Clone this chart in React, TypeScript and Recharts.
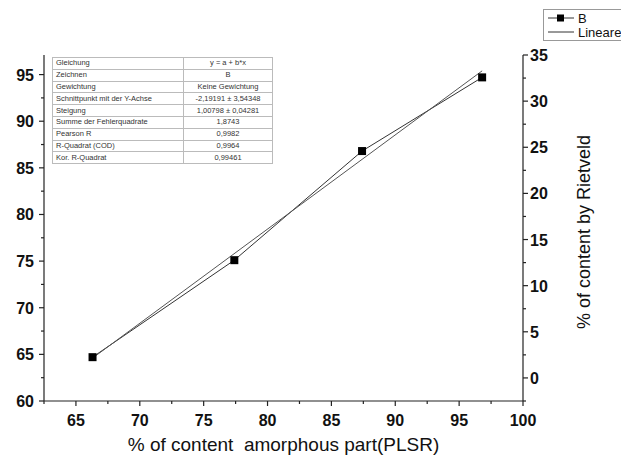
import React from 'react';
import {
  LineChart,
  Line,
  XAxis,
  YAxis,
} from 'recharts';

// measured points (series "B")
const xValues = [66.3, 77.4, 87.4, 96.8];
const yValues = [64.7, 75.1, 86.8, 94.7];

// linear fit end points
const fitX = [66.3, 96.8];
const fitY = [64.6, 95.4];

const seriesNames = ['B', 'Lineare'];

const xTicks = [62.5, 65, 67.5, 70, 72.5, 75, 77.5, 80, 82.5, 85, 87.5, 90, 92.5, 95, 97.5, 100];
const leftTicks = [60, 62.5, 65, 67.5, 70, 72.5, 75, 77.5, 80, 82.5, 85, 87.5, 90, 92.5, 95];
const rightTicks = [-2.5, 0, 2.5, 5, 7.5, 10, 12.5, 15, 17.5, 20, 22.5, 25, 27.5, 30, 32.5, 35];

const fitLabels = [
  'Gleichung',
  'Zeichnen',
  'Gewichtung',
  'Schnittpunkt mit der Y-Achse',
  'Steigung',
  'Summe der Fehlerquadrate',
  'Pearson R',
  'R-Quadrat (COD)',
  'Kor. R-Quadrat',
];
const fitValues = [
  'y = a + b*x',
  'B',
  'Keine Gewichtung',
  '-2,19191 ± 3,54348',
  '1,00798 ± 0,04281',
  '1,8743',
  '0,9982',
  '0,9964',
  '0,99461',
];

const points = xValues.map((x, i) => ({ x, y: yValues[i] }));
const fitPoints = fitX.map((x, i) => ({ x, y: fitY[i] }));

const FONT = '"Liberation Sans", Arial, sans-serif';
const isMajor = (v: number) => v % 5 === 0;

function SquareDot(props: any) {
  const { cx, cy } = props;
  if (cx == null || cy == null) return null;
  return <rect x={cx - 4} y={cy - 4} width={8} height={8} fill="#000" />;
}

function BottomTick(props: any) {
  const { x, y, payload } = props;
  const v = payload.value;
  const len = isMajor(v) ? 5 : 3;
  return (
    <g>
      <line x1={x} y1={y} x2={x} y2={y + len} stroke="#222" strokeWidth={1.2} />
      {isMajor(v) && (
        <text x={x} y={y + 25} textAnchor="middle" fontSize={16} fontWeight="bold" fill="#111" fontFamily={FONT}>
          {v}
        </text>
      )}
    </g>
  );
}

function TopTick(props: any) {
  const { x, y, payload } = props;
  const len = isMajor(payload.value) ? 5 : 3;
  return <line x1={x} y1={y} x2={x} y2={y + len} stroke="#222" strokeWidth={1.2} />;
}

function LeftTick(props: any) {
  const { x, y, payload } = props;
  const v = payload.value;
  const len = isMajor(v) ? 5 : 3;
  return (
    <g>
      <line x1={x - len} y1={y} x2={x} y2={y} stroke="#222" strokeWidth={1.2} />
      {isMajor(v) && (
        <text x={x - 10} y={y + 6} textAnchor="end" fontSize={16} fontWeight="bold" fill="#111" fontFamily={FONT}>
          {v}
        </text>
      )}
    </g>
  );
}

function RightTick(props: any) {
  const { x, y, payload } = props;
  const v = payload.value;
  const len = isMajor(v) ? 5 : 3;
  return (
    <g>
      <line x1={x} y1={y} x2={x + len} y2={y} stroke="#222" strokeWidth={1.2} />
      {isMajor(v) && v >= 0 && (
        <text x={x + 7} y={y + 6} textAnchor="start" fontSize={16} fontWeight="bold" fill="#111" fontFamily={FONT}>
          {v}
        </text>
      )}
    </g>
  );
}

function LegendBox() {
  return (
    <div
      style={{
        position: 'absolute',
        left: 543,
        top: 9,
        width: 90,
        border: '1px solid #999',
        background: '#fff',
        padding: '1px 4px',
        fontFamily: FONT,
        fontSize: 13,
        color: '#111',
      }}
    >
      {seriesNames.map((name) => (
        <div key={name} style={{ display: 'flex', alignItems: 'center', height: 14 }}>
          <svg width={26} height={12} style={{ marginRight: 4 }}>
            <line x1={0} y1={6} x2={26} y2={6} stroke="#333" strokeWidth={1} />
            {name === 'B' && <rect x={9} y={2.5} width={7} height={7} fill="#000" />}
          </svg>
          <span>{name}</span>
        </div>
      ))}
    </div>
  );
}

function FitTable() {
  return (
    <table
      style={{
        position: 'absolute',
        left: 52,
        top: 57,
        width: 221,
        borderCollapse: 'collapse',
        background: '#fff',
        border: '1px solid #888',
        fontFamily: FONT,
        fontSize: 7.5,
        color: '#333',
      }}
    >
      <tbody>
        {fitLabels.map((label, i) => (
          <tr key={label} style={{ height: 11.8 }}>
            <td style={{ border: '1px solid #bbb', padding: '0 3px', width: 124, lineHeight: '10px' }}>{label}</td>
            <td style={{ border: '1px solid #bbb', padding: 0, textAlign: 'center', lineHeight: '10px' }}>{fitValues[i]}</td>
          </tr>
        ))}
      </tbody>
    </table>
  );
}

export default function App() {
  return (
    <div style={{ position: 'absolute', left: 0, top: 0, width: 621, height: 457, background: '#fff' }}>
      <LineChart width={621} height={457} margin={{ top: 55, right: 48, bottom: 0, left: 0 }}>
        <XAxis
          xAxisId="bottom"
          type="number"
          dataKey="x"
          domain={[62.5, 100]}
          ticks={xTicks}
          interval={0}
          allowDataOverflow
          height={56}
          stroke="#222"
          strokeWidth={1.2}
          tickLine={false}
          tickSize={0}
          tickMargin={0}
          tick={<BottomTick />}
          label={{
            content: () => (
              <text
                x={283.5}
                y={451}
                textAnchor="middle"
                fontSize={19}
                fill="#111"
                fontFamily={FONT}
                style={{ whiteSpace: 'pre' }}
              >
                {'% of content  amorphous part(PLSR)'}
              </text>
            ),
          }}
        />
        <XAxis
          xAxisId="top"
          orientation="top"
          type="number"
          dataKey="x"
          domain={[62.5, 100]}
          ticks={xTicks}
          interval={0}
          allowDataOverflow
          height={0}
          stroke="#222"
          strokeWidth={1.2}
          tickLine={false}
          tickSize={0}
          tickMargin={0}
          tick={<TopTick />}
        />
        <YAxis
          yAxisId="left"
          type="number"
          domain={[60, 97.1]}
          ticks={leftTicks}
          interval={0}
          allowDataOverflow
          width={44}
          stroke="#222"
          strokeWidth={1.2}
          tickLine={false}
          tickSize={0}
          tickMargin={0}
          tick={<LeftTick />}
        />
        <YAxis
          yAxisId="right"
          orientation="right"
          type="number"
          domain={[-2.5, 35]}
          ticks={rightTicks}
          interval={0}
          allowDataOverflow
          width={50}
          stroke="#222"
          strokeWidth={1.2}
          tickLine={false}
          tickSize={0}
          tickMargin={0}
          tick={<RightTick />}
          label={{
            content: () => (
              <text
                transform="translate(590, 232) rotate(-90)"
                textAnchor="middle"
                fontSize={18}
                fill="#111"
                fontFamily={FONT}
              >
                % of content by Rietveld
              </text>
            ),
          }}
        />
        <Line
          xAxisId="bottom"
          yAxisId="left"
          data={points}
          dataKey="y"
          name={seriesNames[0]}
          stroke="#333"
          strokeWidth={1}
          dot={<SquareDot />}
          activeDot={false}
          isAnimationActive={false}
        />
        <Line
          xAxisId="bottom"
          yAxisId="left"
          data={fitPoints}
          dataKey="y"
          name={seriesNames[1]}
          stroke="#555"
          strokeWidth={1}
          dot={false}
          activeDot={false}
          isAnimationActive={false}
        />
      </LineChart>
      <FitTable />
      <LegendBox />
    </div>
  );
}
